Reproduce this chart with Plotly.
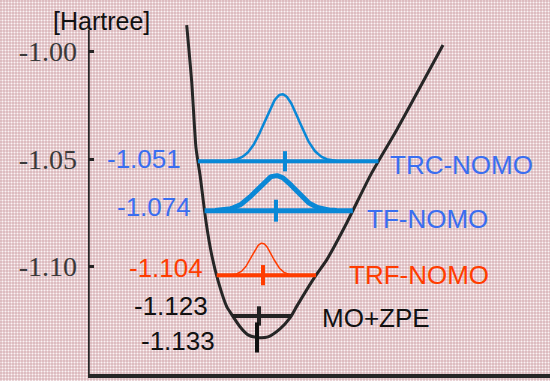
import base64
import numpy as np
import plotly.graph_objects as go

# ---- data ----------------------------------------------------------------
# potential energy curve: internuclear coordinate (arb. units) vs energy (Hartree)
curve_r = [0.987, 1.037, 1.080, 1.120, 1.180, 1.237, 1.303, 1.387, 1.420, 1.520, 1.600,
           1.690, 1.800, 1.920, 2.020, 2.090, 2.270, 2.387, 2.587, 2.837, 3.087, 3.550]
curve_E = [-0.9876, -1.0140, -1.0448, -1.0573, -1.0791, -1.0946, -1.1070, -1.1186, -1.1211,
           -1.1280, -1.1318, -1.1330, -1.1327, -1.1290, -1.1239, -1.1183, -1.1047, -1.0969,
           -1.0797, -1.0564, -1.0364, -0.9969]

# vibrational levels of each method
methods = ["TRC-NOMO", "TF-NOMO", "TRF-NOMO", "MO+ZPE"]
level_E = [-1.051, -1.074, -1.104, -1.123]
level_mark_r = [1.97, 1.88, 1.75, 1.71]          # expectation value of r

# nuclear densities drawn above the NOMO levels
dens_center = [1.94, 1.88, 1.74]
dens_sigma = [0.17, 0.19, 0.10]
dens_height = [0.0312, 0.0163, 0.0149]

# potential minimum
min_E = -1.133
min_r = 1.69

y_ticks = [-1.00, -1.05, -1.10, -1.15]
y_tick_text = ["-1.00", "-1.05", "-1.10", "-1.15"]
y_axis_top = -0.9898

# ---- styles --------------------------------------------------------------
W, H = 550, 381
line_col = ["#0a88d6", "#0a88d6", "#ff3c00", "#222222"]
text_col = ["#3a6ef0", "#3a6ef0", "#ff3c00", "#111111"]
level_w = [4, 5, 4, 4]
dens_w = [2.5, 5, 1.5]
num_lbl_r = [0.95, 1.05, 1.17, 1.22]
num_lbl_shift = [2, 4, 7, 10]
name_lbl_r = [3.00, 2.77, 2.59, 2.32]
name_lbl_shift = [-4, -8, 0, -2]
mark_half = [0.0047, 0.0051, 0.0047, 0.0045]
curve_col = "#262626"
axis_col = "#262626"

# pinkish graph-paper background
tile = ("<svg xmlns='http://www.w3.org/2000/svg' width='%d' height='%d'>"
        "<defs><pattern id='p' width='3' height='3' patternUnits='userSpaceOnUse'>"
        "<rect width='3' height='3' fill='#fbf4f5'/>"
        "<rect width='2' height='3' fill='#c08890' fill-opacity='0.3'/>"
        "<rect width='3' height='2' fill='#c08890' fill-opacity='0.3'/>"
        "</pattern></defs><rect width='100%%' height='100%%' fill='url(#p)'/></svg>") % (W, H)
bg_src = "data:image/svg+xml;base64," + base64.b64encode(tile.encode()).decode()

fig = go.Figure()

# potential curve
fig.add_trace(go.Scatter(x=curve_r, y=curve_E, mode="lines",
                         line=dict(color=curve_col, width=3, shape="spline", smoothing=0.6),
                         hoverinfo="skip"))

# split the curve into its two branches to find where each level meets it
i_min = int(np.argmin(curve_E))
rl, El = np.array(curve_r[:i_min + 1]), np.array(curve_E[:i_min + 1])
rr, Er = np.array(curve_r[i_min:]), np.array(curve_E[i_min:])

for k, E in enumerate(level_E):
    r_left = float(np.interp(E, El[::-1], rl[::-1]))
    r_right = float(np.interp(E, Er, rr))
    # nuclear density above the level
    if k < len(dens_center):
        c, s, a = dens_center[k], dens_sigma[k], dens_height[k]
        rg = np.linspace(c - 3.2 * s, c + 3.2 * s, 120)
        fig.add_trace(go.Scatter(x=rg, y=E + a * np.exp(-0.5 * ((rg - c) / s) ** 2),
                                 mode="lines", line=dict(color=line_col[k], width=dens_w[k]),
                                 hoverinfo="skip"))
    # level line
    fig.add_trace(go.Scatter(x=[r_left, r_right], y=[E, E], mode="lines",
                             line=dict(color=line_col[k], width=level_w[k]), hoverinfo="skip"))
    # marker for <r>
    m = level_mark_r[k]
    fig.add_trace(go.Scatter(x=[m, m], y=[E - mark_half[k], E + mark_half[k]], mode="lines",
                             line=dict(color=line_col[k], width=4), hoverinfo="skip"))
    fig.add_annotation(x=num_lbl_r[k], y=E, xref="x", yref="y", text="%.3f" % E,
                       showarrow=False, xanchor="right", yanchor="middle",
                       yshift=num_lbl_shift[k],
                       font=dict(family="Liberation Sans", size=26, color=text_col[k]))
    fig.add_annotation(x=name_lbl_r[k], y=E, xref="x", yref="y", text=methods[k],
                       showarrow=False, xanchor="left", yanchor="middle",
                       yshift=name_lbl_shift[k],
                       font=dict(family="Liberation Sans", size=26, color=text_col[k]))

# minimum of the potential
fig.add_trace(go.Scatter(x=[min_r, min_r], y=[min_E - 0.007, min_E + 0.007], mode="lines",
                         line=dict(color="#111111", width=4), hoverinfo="skip"))
fig.add_annotation(x=1.29, y=min_E, xref="x", yref="y", text="%.3f" % min_E,
                   showarrow=False, xanchor="right", yanchor="middle", yshift=-4,
                   font=dict(family="Liberation Sans", size=26, color="#111111"))

# unit label
fig.add_annotation(x=101 / W, y=1 - 21 / H, xref="paper", yref="paper", text="[Hartree]",
                   showarrow=False, xanchor="center", yanchor="middle",
                   font=dict(family="Liberation Sans", size=25, color="#111111"))

# vertical energy axis line (stops a little below the top of the plotting area)
fig.add_shape(type="line", xref="x", yref="y", x0=0, x1=0, y0=-1.15, y1=y_axis_top,
              line=dict(color=axis_col, width=3.5), layer="above")

fig.update_layout(
    width=W, height=H, template="none", showlegend=False,
    margin=dict(l=0, r=0, t=0, b=0, pad=0),
    paper_bgcolor="#ffffff", plot_bgcolor="rgba(0,0,0,0)",
    images=[dict(source=bg_src, xref="paper", yref="paper", x=0, y=1, sizex=1, sizey=1,
                 xanchor="left", yanchor="top", sizing="stretch", layer="below")],
    xaxis=dict(domain=[88 / W, 1], range=[0, 4.62], showgrid=False, zeroline=False,
               showline=True, linecolor=axis_col, linewidth=3.5, mirror=False,
               tickvals=[4.61], ticks="inside", ticklen=6, tickwidth=3, tickcolor=axis_col,
               showticklabels=False, automargin=False, fixedrange=True),
    yaxis=dict(domain=[(H - 374) / H, (H - 20) / H], range=[-1.15, -0.98526],
               showgrid=False, zeroline=False, showline=False,
               tickvals=y_ticks, ticktext=y_tick_text, ticks="inside",
               ticklen=6, tickwidth=3, tickcolor=axis_col, ticklabelstandoff=10,
               tickfont=dict(family="Liberation Serif", size=28, color="#3a3a3a"),
               automargin=False, fixedrange=True),
)

fig.write_html("out.html", config={"displayModeBar": False})
